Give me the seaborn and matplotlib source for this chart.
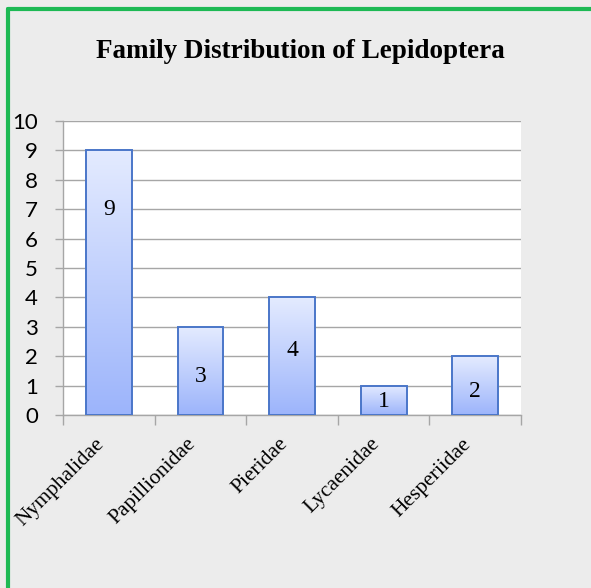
import matplotlib
matplotlib.use('Agg')
import matplotlib.pyplot as plt
from matplotlib.colors import LinearSegmentedColormap
from matplotlib.lines import Line2D
import seaborn as sns
import pandas as pd
import numpy as np

families = ["Nymphalidae", "Papillionidae", "Pieridae", "Lycaenidae", "Hesperiidae"]
counts = [9, 3, 4, 1, 2]
# where the value labels sit inside each bar (data units)
label_y = [7.0, 1.3, 2.2, 0.47, 0.8]

df = pd.DataFrame({"family": families, "count": counts})

sns.set_theme(style="white")
plt.rcParams['font.family'] = ['Liberation Serif', 'DejaVu Serif']
plt.rcParams['text.color'] = 'black'
plt.rcParams['xtick.color'] = 'black'
plt.rcParams['ytick.color'] = 'black'

fig = plt.figure(figsize=(5.91, 5.88), dpi=100)
fig.patch.set_facecolor('#ececec')
ax = fig.add_axes([0.1066, 0.2942, 0.775, 0.5])
ax.set_facecolor('white')

sns.barplot(data=df, x="family", y="count", ax=ax, width=0.5,
            color='#bccdfd', edgecolor='#4a76c9', linewidth=1.4, zorder=3)

# vertical gradient inside each bar
grad = LinearSegmentedColormap.from_list('bar', ['#9cb4fb', '#e4ebff'])
for p in ax.patches:
    x0, y0 = p.get_x(), p.get_y()
    w, h = p.get_width(), p.get_height()
    img = ax.imshow(np.linspace(0, 1, 256).reshape(-1, 1), cmap=grad,
                    extent=[x0, x0 + w, y0, y0 + h], origin='lower',
                    aspect='auto', zorder=3.5)
    img.set_clip_path(p)
    p.set_facecolor('none')
    p.set_zorder(4)

for i, (c, ly) in enumerate(zip(counts, label_y)):
    ax.text(i, ly, str(c), ha='center', va='center', fontsize=17,
            color='black', zorder=5)

ax.set_xlim(-0.5, 4.5)
ax.set_ylim(0, 10)
ax.set_yticks(range(0, 11))
ax.yaxis.grid(True, color='#a6a6a6', linewidth=1.0, zorder=0)
ax.set_axisbelow(True)
ax.set_xlabel("")
ax.set_ylabel("")

for s in ['top', 'right']:
    ax.spines[s].set_visible(False)
for s in ['left', 'bottom']:
    ax.spines[s].set_color('#a6a6a6')
    ax.spines[s].set_linewidth(1.0)

ax.tick_params(axis='y', left=True, length=6, width=1, color='#a6a6a6',
               labelcolor='black', pad=12, labelsize=16)
for t in ax.get_yticklabels():
    t.set_family(['Lato', 'DejaVu Sans'])

# category boundary ticks on the x axis
ax.set_xticks(np.arange(-0.5, 5, 1.0))
ax.set_xticklabels([])
ax.tick_params(axis='x', bottom=True, length=7, width=1, color='#a6a6a6')

for i, name in enumerate(families):
    ax.annotate(name, xy=(i, 0), xycoords='data', xytext=(-5, -19),
                textcoords='offset points', rotation=45, rotation_mode='anchor',
                ha='right', va='center', fontsize=15.5, color='black')

fig.text(0.508, 0.913, "Family Distribution of Lepidoptera", ha='center',
         va='center', fontsize=19.5, fontweight='bold', color='black')

# green frame on top and left
fig.add_artist(Line2D([0.013, 1.0], [0.984, 0.984], color='#1db954', linewidth=3,
                      transform=fig.transFigure))
fig.add_artist(Line2D([0.013, 0.013], [0.0, 0.984], color='#1db954', linewidth=3,
                      transform=fig.transFigure))

fig.savefig('out.png', dpi=100, facecolor=fig.get_facecolor())
